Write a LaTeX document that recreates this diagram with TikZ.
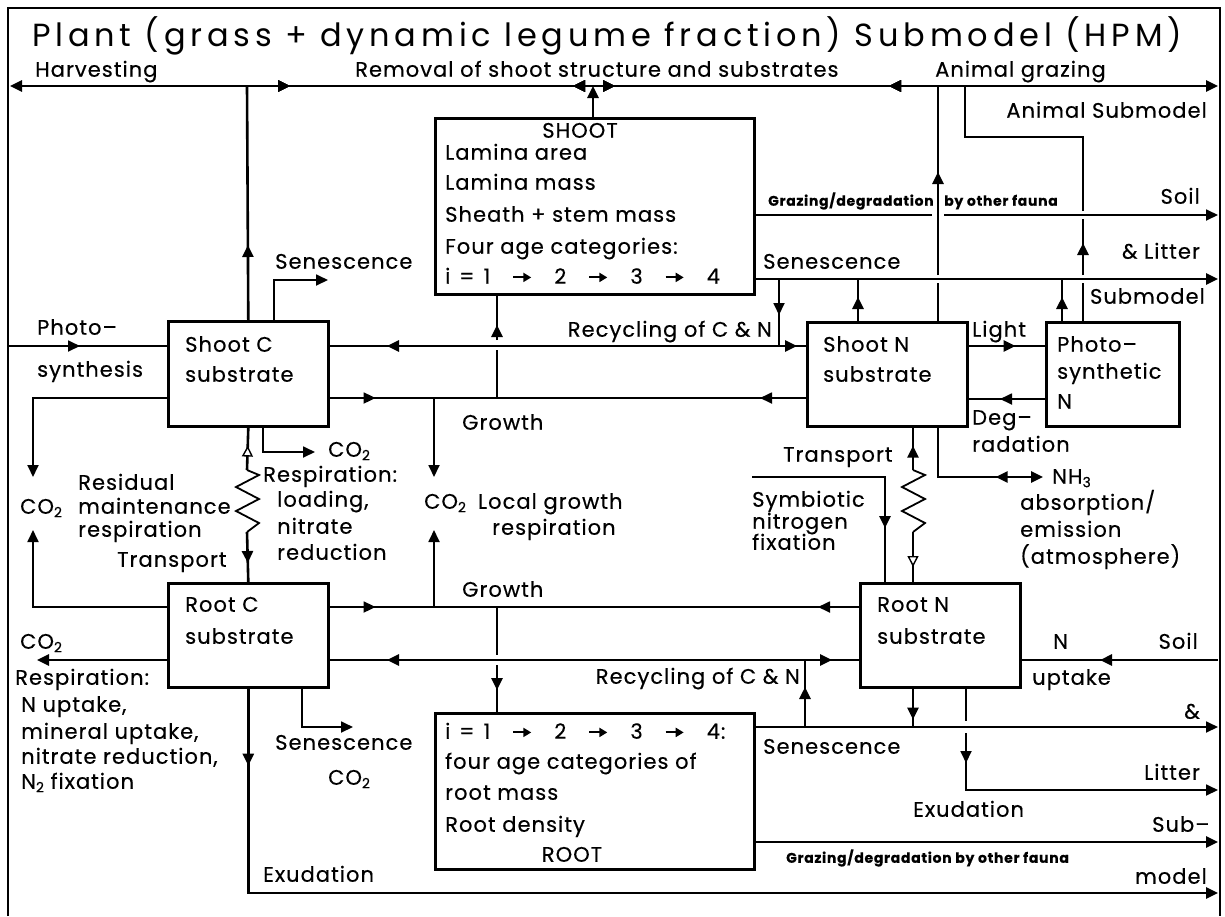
\documentclass[tikz,border=0pt]{standalone}
\usepackage{fontspec}
\setmainfont{Poppins}[LetterSpace=5, FakeBold=0.4]
\newfontfamily\titlefont{Poppins}[LetterSpace=15]
\usetikzlibrary{arrows.meta,positioning,calc,decorations.markings}
\newcommand{\chemsub}[1]{\raisebox{-0.3ex}{\fontsize{14}{14}\selectfont #1}}
\newcommand{\nxt}{\hspace{22pt}\tikz[baseline=-0.55ex]\draw[line width=2pt,-{Triangle[length=8pt,width=9pt]}] (0pt,0pt) -- (18pt,0pt);\hspace{22pt}}
\newcommand{\ieq}{i\hspace{9pt}=\hspace{9pt}1}
\tikzset{
  >={Triangle[length=12pt,width=11pt]},
  box/.style={draw, line width=2.6pt, anchor=north west, inner sep=0pt},
  flow/.style={line width=2.6pt},
  lite/.style={line width=1.8pt},
  lbl/.style={inner sep=0pt, anchor=mid west, yshift=-4pt, font=\fontsize{21}{26}\selectfont},
  rlbl/.style={lbl, anchor=mid east},
  fauna/.style={inner sep=0pt, anchor=mid west, yshift=-3pt, font=\fontsize{14}{16}\selectfont\bfseries},
  ma/.style={decoration={markings, mark=at position #1 with {\arrow{>}}}, postaction={decorate}},
  mr/.style={decoration={markings, mark=at position #1 with {\arrowreversed{>}}}, postaction={decorate}},
  mo/.style={decoration={markings, mark=at position #1 with {\arrow{Triangle[length=11pt,width=11pt,fill=white,line width=1.4pt]}}}, postaction={decorate}},
  mor/.style={decoration={markings, mark=at position #1 with {\arrowreversed{Triangle[length=11pt,width=11pt,fill=white,line width=1.4pt]}}}, postaction={decorate}},
}

\begin{document}
\begin{tikzpicture}[x=1pt, y=-1pt]
  \useasboundingbox (0,0) rectangle (1225,916);
  \draw[line width=2pt] (8,916) -- (8,8) -- (1220,8) -- (1220,916);

  % pools
  \node[box, minimum width=160pt, minimum height=105pt] (shootC) at (167,320) {};
  \node[box, minimum width=160pt, minimum height=104pt] (rootC) at (167,582) {};
  \node[box, minimum width=319pt, minimum height=176pt] (shoot) at (434,117) {};
  \node[box, minimum width=319pt, minimum height=156pt] (root) at (434,712) {};
  \node[box, minimum width=160pt, minimum height=104pt] (shootN) at (806,321) {};
  \node[box, minimum width=133pt, minimum height=104pt] (photoN) at (1045,321) {};
  \node[box, minimum width=160pt, minimum height=104pt] (rootN) at (859,582) {};

  \coordinate (gL) at (10,86);
  \coordinate (gR) at (1218,86);
  \coordinate (hv) at (247,86);
  \coordinate (rv) at (593,86);
  \coordinate (ssE) at (1218,279);
  \coordinate (gzE) at (1218,215);
  \coordinate (ru) at (779,346);
  \coordinate (ps) at (9,346);
  \coordinate (dg) at (1045,399);
  \coordinate (gu) at (497,398);
  \coordinate (gc) at (434,398);
  \coordinate (gr) at (497,607);
  \coordinate (gk) at (434,607);
  \coordinate (rl) at (805,660);
  \coordinate (sr) at (1218,727);
  \coordinate (su) at (1218,660);
  \coordinate (sym) at (752,477);

  % removal of shoot material
  \draw[flow, <->, ma=280pt, mr=563pt, ma=605pt, mr=879pt] (gL) -- (gR);
  \draw[flow, ma=75pt] (shootC.north) -- (hv);
  \draw[lite, ->] (shootC.north -| 274,0) |- (328,280);
  \draw[flow, ->] (shoot.north -| rv) -- (rv);
  \draw[flow] (shootN.north -| 938,0) -- (938,283);
  \draw[flow, ma=103pt] (938,275) -- (gR -| 938,0);
  \draw[flow] (photoN.north -| 1083,0) -- (1083,283);
  \draw[flow, ma=32pt] (1083,275) -- (1083,219);
  \draw[flow] (1083,211) -- (1083,137) -| (gR -| 965,0);

  % shoot outputs
  \draw[flow, ->] (shoot.east |- ssE) -- (ssE);
  \draw[lite] (shoot.east |- gzE) -- (932,215);
  \draw[lite, ->] (944,215) -- (gzE);
  \draw[flow, ma=24pt] (shootN.north -| 858,0) -- (ssE -| 858,0);
  \draw[flow, ma=24pt] (photoN.north -| 1062,0) -- (ssE -| 1062,0);

  % recycling and growth (shoot)
  \draw[lite, ma=36pt] (ru |- ssE) -- (ru);
  \draw[flow, ma=392pt] (ru) -- (shootC.east |- ru);
  \draw[flow, ma=18pt] (ru) -- (shootN.west |- ru);
  \draw[lite, ma=71pt] (ps) -- (shootC.west |- ps);
  \draw[flow, ma=47pt] (shootN.east |- ru) -- (photoN.west |- ru);
  \draw[lite, ma=45pt] (dg) -- (shootN.east |- dg);
  \draw[lite, ma=46pt] (shootC.east |- gu) -- (gu);
  \draw[lite, ma=46pt] (shootN.west |- gu) -- (gc);
  \draw[lite, ->] (gc) -- (434,477);
  \draw[flow] (gu) -- (497,350);
  \draw[flow, ma=15pt] (497,340) -- (shoot.south -| gu);
  \draw[lite, ->] (shootC.west |- gu) -| (33,477);
  \draw[lite, ->] (shootC.south -| 263,0) |- (315,452);

  % transport C
  \draw[flow, mor=18pt] (shootC.south) -- (247,470);
  \draw[lite] (247,470) -- ++(12,5) -- ++(-23,12) -- ++(23,12) -- ++(-23,12) -- ++(23,12) -- (247,532);
  \draw[flow, ma=31pt] (247,532) -- (rootC.north);

  % transport N
  \draw[flow, mr=18pt] (shootN.south -| 913,0) -- (913,470);
  \draw[lite] (913,470) -- ++(12,5) -- ++(-23,12) -- ++(23,12) -- ++(-23,12) -- ++(23,12) -- (913,532);
  \draw[flow, mo=35pt] (913,532) -- (rootN.north -| 913,0);
  \draw[flow, mr=107pt, ->] (shootN.south -| 938,0) |- (1043,477);
  \draw[flow, ma=184pt] (sym) -| (rootN.north -| 885,0);

  % root side
  \draw[lite, ->] (rootC.west |- gr) -| (33,530);
  \draw[flow, ->] (rootC.west |- rl) -- (37,660);
  \draw[lite, ma=46pt] (rootC.east |- gr) -- (gr);
  \draw[lite, ma=41pt] (rootN.west |- gr) -- (gk);
  \draw[lite, ->] (gk) -- (434,530);
  \draw[flow] (gr) -- (497,655);
  \draw[flow, ma=25pt] (497,665) -- (root.north -| gr);
  \draw[flow, ma=40pt] (rl |- sr) -- (rl);
  \draw[flow, ma=418pt] (rl) -- (rootC.east |- rl);
  \draw[flow, ma=27pt] (rl) -- (rootN.west |- rl);
  \draw[flow, ma=118pt] (su) -- (rootN.east |- su);
  \draw[lite, ->] (root.east |- sr) -- (sr);
  \draw[flow, ma=31pt] (rootN.south -| 913,0) -- (sr -| 913,0);
  \draw[flow] (rootN.south -| 966,0) -- (966,721);
  \draw[lite, ma=30pt, ->] (966,733) |- (1218,790);
  \draw[flow, ->] (root.east |- 0,842) -- (1218,842);
  \draw[flow, ma=77pt, ->] (rootC.south) |- (1218,893);
  \draw[lite, ->] (rootC.south -| 302,0) |- (353,727);

  % texts
  \node[inner sep=0pt, font=\titlefont\fontsize{32}{36}\selectfont] (title) at (607,36) {Plant (grass + dynamic legume fraction) Submodel (HPM)};
  \node[lbl] (lHarv) at (35,70) {Harvesting};
  \node[lbl] (lRem) at (355,70) {Removal of shoot structure and substrates};
  \node[lbl] (lAnim) at (935,70) {Animal grazing};
  \node[rlbl] (lAsub) at (1207,111) {Animal Submodel};
  \node[rlbl] (lSoil1) at (1200,197) {Soil};
  \node[rlbl] (lLit1) at (1200,252) {\& Litter};
  \node[rlbl] (lSub1) at (1205,297) {Submodel};
  \node[fauna] (lGz1a) at (768,200) {Grazing/degradation};
  \node[fauna] (lGz1b) at (944,200) {by other fauna};
  \node[lbl] (lSenC) at (275,262) {Senescence};
  \node[lbl] (lSenS) at (763,262) {Senescence};
  \node[lbl, anchor=mid] (lShoot) at (580,131) {SHOOT};
  \node[lbl] (lSh1) at (445,153) {Lamina area};
  \node[lbl] (lSh2) at (445,183) {Lamina mass};
  \node[lbl] (lSh3) at (445,215) {Sheath + stem mass};
  \node[lbl] (lSh4) at (445,247) {Four age categories:};
  \node[lbl] (lSh5) at (445,277) {\ieq\nxt 2\nxt 3\nxt 4};
  \node[lbl] (lPh1) at (37,328) {Photo--};
  \node[lbl] (lPh2) at (37,370) {synthesis};
  \node[lbl] (lSC1) at (185,345) {Shoot C};
  \node[lbl] (lSC2) at (185,375) {substrate};
  \node[rlbl] (lRecU) at (772,330) {Recycling of C \& N};
  \node[lbl] (lGroU) at (462,423) {Growth};
  \node[lbl] (lSN1) at (823,345) {Shoot N};
  \node[lbl] (lSN2) at (823,375) {substrate};
  \node[lbl] (lLight) at (972,330) {Light};
  \node[lbl] (lPN1) at (1057,345) {Photo--};
  \node[lbl] (lPN2) at (1057,372) {synthetic};
  \node[lbl] (lPN3) at (1057,402) {N};
  \node[lbl] (lDeg1) at (972,418) {Deg--};
  \node[lbl] (lDeg2) at (972,445) {radation};
  \node[lbl] (lCO2a) at (328,450) {CO\chemsub{2}};
  \node[lbl] (lResp1) at (263,475) {Respiration:};
  \node[lbl] (lResp2) at (277,500) {loading,};
  \node[lbl] (lResp3) at (277,527) {nitrate};
  \node[lbl] (lResp4) at (277,553) {reduction};
  \node[lbl] (lCO2b) at (20,507) {CO\chemsub{2}};
  \node[lbl] (lRes1) at (78,483) {Residual};
  \node[lbl] (lRes2) at (78,507) {maintenance};
  \node[lbl] (lRes3) at (78,530) {respiration};
  \node[lbl] (lTrC) at (117,560) {Transport};
  \node[lbl] (lCO2c) at (424,502) {CO\chemsub{2}\hspace{12pt}Local growth};
  \node[lbl] (lLoc2) at (492,528) {respiration};
  \node[lbl] (lTrN) at (783,455) {Transport};
  \node[lbl] (lSym1) at (752,500) {Symbiotic};
  \node[lbl] (lSym2) at (752,522) {nitrogen};
  \node[lbl] (lSym3) at (752,543) {fixation};
  \node[lbl] (lNH) at (1052,477) {NH\chemsub{3}};
  \node[lbl] (lAbs1) at (1020,503) {absorption/};
  \node[lbl] (lAbs2) at (1020,530) {emission};
  \node[lbl] (lAbs3) at (1020,557) {(atmosphere)};
  \node[lbl] (lGroL) at (462,590) {Growth};
  \node[lbl] (lRC1) at (185,605) {Root C};
  \node[lbl] (lRC2) at (185,637) {substrate};
  \node[lbl] (lCO2d) at (20,642) {CO\chemsub{2}};
  \node[lbl] (lRR1) at (15,678) {Respiration:};
  \node[lbl] (lRR2) at (21,705) {N uptake,};
  \node[lbl] (lRR3) at (21,732) {mineral uptake,};
  \node[lbl] (lRR4) at (21,757) {nitrate reduction,};
  \node[lbl] (lRR5) at (21,782) {N\chemsub{2} fixation};
  \node[rlbl] (lRecL) at (800,677) {Recycling of C \& N};
  \node[lbl] (lRN1) at (877,605) {Root N};
  \node[lbl] (lRN2) at (877,637) {substrate};
  \node[lbl] (lN) at (1053,642) {N};
  \node[lbl] (lUpt) at (1032,678) {uptake};
  \node[rlbl] (lSoil2) at (1198,642) {Soil};
  \node[rlbl] (lAmp) at (1200,712) {\&};
  \node[lbl] (lSenR) at (275,743) {Senescence};
  \node[lbl] (lCO2e) at (328,778) {CO\chemsub{2}};
  \node[lbl] (lRt1) at (445,732) {\ieq\nxt 2\nxt 3\nxt 4:};
  \node[lbl] (lRt2) at (445,762) {four age categories of};
  \node[lbl] (lRt3) at (445,793) {root mass};
  \node[lbl] (lRt4) at (445,825) {Root density};
  \node[lbl, anchor=mid] (lRoot) at (572,855) {ROOT};
  \node[lbl] (lSenL) at (763,747) {Senescence};
  \node[rlbl] (lLit2) at (1200,773) {Litter};
  \node[lbl] (lExN) at (913,810) {Exudation};
  \node[lbl] (lSub2) at (1152,825) {Sub--};
  \node[fauna] (lGz2) at (786,857) {Grazing/degradation by other fauna};
  \node[lbl] (lExC) at (263,875) {Exudation};
  \node[rlbl] (lModel) at (1207,877) {model};
\end{tikzpicture}
\end{document}
